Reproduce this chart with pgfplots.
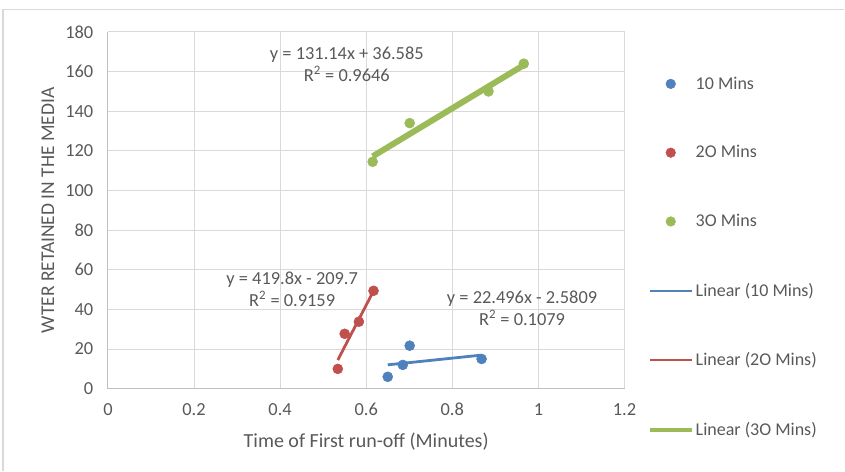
\documentclass[border=0pt]{standalone}
\usepackage{pgfplots}
\pgfplotsset{compat=1.18}
\usepackage{fontspec}
\setmainfont{Carlito}
\definecolor{txt}{HTML}{595959}
\definecolor{gridc}{HTML}{D9D9D9}
\definecolor{axc}{HTML}{BFBFBF}
\definecolor{cblue}{HTML}{4F81BD}
\definecolor{cred}{HTML}{C0504D}
\definecolor{cgreen}{HTML}{9BBB59}
\pgfplotsset{
  legmark/.style={legend image code/.code={\draw[mark size=3.6pt,##1] plot coordinates {(0.55cm,0cm)};}},
  legline/.style={legend image code/.code={\draw[##1, line width=#1] (0cm,0cm) -- (1.1cm,0cm);}},
}
\begin{document}
\begin{tikzpicture}[font=\fontsize{13.6}{16.3}\selectfont]
\begin{axis}[
  name=ax,
  scale only axis,
  width=387.75pt, height=267.75pt,
  xmin=0, xmax=1.2, ymin=0, ymax=180,
  xtick={0,0.2,...,1.2}, ytick={0,20,...,180},
  grid=major,
  major grid style={gridc, line width=0.75pt},
  axis line style={axc, line width=0.75pt},
  axis x line*=bottom, axis y line*=left,
  tick style={draw=none},
  x axis line style={-}, y axis line style={-},
  /pgf/number format/assume math mode=true,
  ticklabel style={text=txt, font=\fontsize{13.8}{16.5}\selectfont},
  xticklabel style={yshift=-7.5pt},
  yticklabel style={xshift=-7.5pt},
  xlabel={Time of First run-off (Minutes)},
  ylabel={WTER RETAINED IN THE MEDIA},
  xlabel style={text=txt, font=\fontsize{15}{18}\selectfont, yshift=-5.5pt},
  ylabel style={text=txt, font=\fontsize{14.6}{17.5}\selectfont, yshift=1.5pt},
  legend cell align=left,
  legend style={at={(axis description cs:1.0445,0.881)}, anchor=north west,
    draw=none, fill=none, inner sep=0pt, row sep=37.85pt,
    font=\fontsize{13.5}{16.2}\selectfont, text=txt,
    nodes={inner sep=1.5pt}},
]
\addplot[only marks, mark=*, mark size=3.75pt, color=cblue, legmark]
  coordinates {(0.650,6) (0.685,12) (0.701,21.7) (0.868,15)};
\addlegendentry{10 Mins}
\addplot[only marks, mark=*, mark size=3.75pt, color=cred, legmark]
  coordinates {(0.534,10) (0.550,27.7) (0.583,33.8) (0.617,49.4)};
\addlegendentry{2O Mins}
\addplot[only marks, mark=*, mark size=3.75pt, color=cgreen, legmark]
  coordinates {(0.615,114.5) (0.701,134) (0.884,150) (0.966,164)};
\addlegendentry{3O Mins}
\addplot[no marks, color=cblue, line width=2.1pt, legline=1.5pt]
  coordinates {(0.650,12.04) (0.868,16.95)};
\addlegendentry{Linear (10 Mins)}
\addplot[no marks, color=cred, line width=2.1pt, legline=1.5pt]
  coordinates {(0.534,14.47) (0.617,49.32)};
\addlegendentry{Linear (2O Mins)}
\addplot[no marks, color=cgreen, line width=4.5pt, legline=3.2pt]
  coordinates {(0.615,117.24) (0.966,163.27)};
\addlegendentry{Linear (3O Mins)}
\node[text=txt, align=center, font=\fontsize{13.8}{16.5}\selectfont] at (axis cs:0.555,163.9) {y = 131.14x + 36.585\\R\textsuperscript{2} = 0.9646};
\node[text=txt, align=center, font=\fontsize{13.8}{16.5}\selectfont] at (axis cs:0.428,50.4) {y = 419.8x - 209.7\\R\textsuperscript{2} = 0.9159};
\node[text=txt, align=center, font=\fontsize{13.8}{16.5}\selectfont] at (axis cs:0.962,40.8) {y = 22.496x - 2.5809\\R\textsuperscript{2} = 0.1079};
\end{axis}
\draw[gridc, line width=1pt] ([xshift=-78.75pt,yshift=-61.5pt]ax.south west) -- ([xshift=-78.75pt,yshift=284.6pt]ax.south west) -- ([xshift=552.75pt,yshift=284.6pt]ax.south west);
\useasboundingbox ([xshift=-81pt,yshift=-61.5pt]ax.south west) rectangle ([xshift=552.75pt,yshift=291.75pt]ax.south west);
\end{tikzpicture}
\end{document}
